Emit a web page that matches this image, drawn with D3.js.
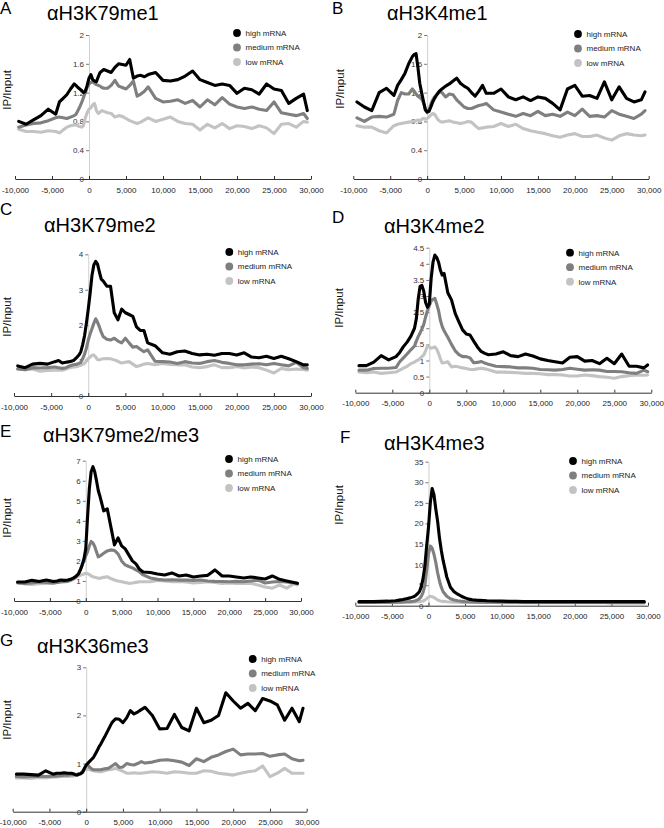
<!DOCTYPE html>
<html><head><meta charset="utf-8">
<script src="https://cdn.jsdelivr.net/npm/d3@7"></script>
<style>
html,body{margin:0;padding:0;background:#fff;}
svg{display:block;font-family:"Liberation Sans",Arial,sans-serif;}
</style></head>
<body><svg id="chart" width="664" height="828"></svg>
<script>
// genomic position (bp relative to TSS) shared by every series
const positions = [-9500,-8500,-7500,-6500,-5500,-4500,
  -4000,-3500,-3000,-2500,-2000,
  -1750,-1500,-1250,-1000,-750,-500,-250,0,250,500,750,1000,1250,1500,1750,
  2000,2500,3000,3500,4000,4500,5000,5500,6000,6500,7000,7500,8000,
  9000,10000,11000,12000,13000,14000,15000,16000,17000,18000,19000,20000,21000,22000,23000,24000,25000,26000,27000,28000,29000,
  29500];

const seriesNames = ["high mRNA","medium mRNA","low mRNA"];
const panelLetters = ["A","B","C","D","E","F","G"];
const panelTitles = ["\u03b1H3K79me1","\u03b1H3K4me1","\u03b1H3K79me2","\u03b1H3K4me2","\u03b1H3K79me2/me3","\u03b1H3K4me3","\u03b1H3K36me3"];
const xTicks = [-10000,-5000,0,5000,10000,15000,20000,25000,30000];
const yTicksA = [0,0.4,0.8,1.2,1.6,2];
const yTicksB = [0,0.4,0.8,1.2,1.6,2];
const yTicksC = [0,1,2,3,4];
const yTicksD = [0,0.5,1,1.5,2,2.5,3,3.5,4,4.5];
const yTicksE = [0,1,2,3,4,5,6,7];
const yTicksF = [0,5,10,15,20,25,30,35];
const yTicksG = [0,1,2,3];

// A  aH3K79me1
const aHigh = [0.8,0.76,0.82,0.88,0.97,0.9,
  1.07,1.12,1.17,1.25,1.32,
  1.3,1.27,1.25,1.23,1.2,1.22,1.3,1.4,1.45,1.38,1.36,1.35,1.42,1.48,1.5,
  1.52,1.5,1.48,1.55,1.6,1.59,1.58,1.66,1.4,1.43,1.44,1.42,1.45,
  1.48,1.37,1.36,1.38,1.43,1.5,1.38,1.34,1.3,1.32,1.3,1.19,1.26,1.24,1.18,1.32,1.25,1.23,1.05,1.12,1.18,
  0.95];
const aMed = [0.72,0.75,0.77,0.78,0.81,0.85,
  0.86,0.85,0.84,0.86,0.88,
  0.9,0.95,1.0,1.06,1.13,1.2,1.27,1.32,1.34,1.35,1.33,1.31,1.3,1.29,1.27,
  1.26,1.26,1.3,1.37,1.29,1.27,1.25,1.3,1.36,1.15,1.18,1.22,1.28,
  1.12,1.07,1.08,1.1,1.05,1.09,1.0,1.1,1.03,1.13,1.04,1.0,0.98,1.0,0.97,0.95,1.07,0.92,0.9,0.88,0.91,
  0.84];
const aLow = [0.69,0.66,0.66,0.65,0.67,0.66,
  0.64,0.68,0.72,0.74,0.75,
  0.75,0.74,0.73,0.72,0.74,0.85,0.92,0.97,0.99,1.03,1.05,0.95,0.91,0.93,0.95,
  0.94,0.92,0.91,0.86,0.88,0.87,0.84,0.81,0.79,0.77,0.79,0.82,0.85,
  0.8,0.83,0.86,0.8,0.77,0.76,0.68,0.76,0.71,0.77,0.7,0.74,0.73,0.7,0.74,0.71,0.63,0.76,0.77,0.72,0.8,
  0.79];

// B  aH3K4me1
const bHigh = [1.07,1.0,0.95,1.2,1.26,1.16,
  1.3,1.38,1.47,1.6,1.7,
  1.73,1.74,1.55,1.33,1.2,1.08,0.96,0.93,0.94,1.0,1.07,1.12,1.16,1.2,1.23,
  1.25,1.29,1.32,1.36,1.4,1.33,1.29,1.26,1.2,1.15,1.22,1.3,1.19,
  1.19,1.25,1.14,1.1,1.14,1.09,1.14,1.12,1.05,0.96,1.25,1.3,1.15,1.16,1.12,1.35,1.1,1.28,1.12,1.07,1.1,
  1.21];
const bMed = [0.85,0.8,0.86,0.87,0.86,0.9,
  1.09,1.2,1.18,1.18,1.25,
  1.22,1.18,1.15,1.13,1.11,1.06,0.98,0.92,0.96,1.04,1.1,1.14,1.17,1.19,1.21,
  1.2,1.14,1.18,1.17,1.1,1.05,1.0,0.98,0.98,1.0,1.02,1.03,1.05,
  0.96,0.93,0.9,0.87,0.91,0.88,0.94,0.88,0.9,0.87,0.93,0.88,0.97,0.87,0.88,0.86,0.95,0.9,0.87,0.84,0.9,
  0.95];
const bLow = [0.74,0.72,0.72,0.67,0.64,0.74,
  0.76,0.77,0.78,0.79,0.8,
  0.8,0.81,0.82,0.8,0.83,0.84,0.83,0.84,0.86,0.89,0.91,0.9,0.86,0.82,0.8,
  0.79,0.8,0.81,0.79,0.78,0.77,0.78,0.8,0.79,0.74,0.7,0.71,0.72,
  0.73,0.77,0.73,0.76,0.7,0.67,0.65,0.63,0.6,0.58,0.61,0.63,0.59,0.59,0.61,0.57,0.54,0.6,0.63,0.61,0.6,
  0.61];

// C  aH3K79me2
const cHigh = [0.85,0.8,0.9,0.92,0.9,0.97,
  1.0,0.93,0.95,0.97,1.0,
  1.05,1.1,1.16,1.25,1.45,1.7,2.05,2.45,2.9,3.4,3.7,3.8,3.72,3.5,3.3,
  3.25,3.1,3.1,2.35,2.15,2.45,2.35,2.3,2.25,1.95,1.85,1.85,1.5,
  1.42,1.22,1.18,1.25,1.27,1.2,1.16,1.18,1.15,1.2,1.2,1.16,1.22,1.1,1.08,1.12,1.06,1.12,1.05,0.97,0.88,
  0.88];
const cMed = [0.76,0.74,0.8,0.79,0.8,0.82,
  0.8,0.78,0.8,0.85,0.88,
  0.89,0.9,0.92,0.95,1.05,1.18,1.35,1.58,1.75,1.9,2.05,2.18,2.08,1.95,1.8,
  1.68,1.6,1.58,1.63,1.55,1.5,1.63,1.5,1.38,1.4,1.32,1.25,1.3,
  0.98,0.97,0.96,0.92,0.97,0.93,0.92,0.97,1.0,0.95,0.92,0.88,0.88,0.9,0.91,0.88,0.92,0.88,0.85,0.95,0.8,
  0.78];
const cLow = [0.77,0.74,0.76,0.7,0.72,0.73,
  0.73,0.73,0.76,0.8,0.82,
  0.82,0.83,0.85,0.87,0.89,0.92,1.0,1.06,1.1,1.15,1.16,1.1,1.03,1.02,1.04,
  1.05,1.06,1.05,1.02,0.98,0.93,0.95,0.97,0.9,0.83,0.86,0.9,0.92,
  0.88,0.92,0.89,0.88,0.88,0.82,0.8,0.83,0.88,0.8,0.8,0.83,0.79,0.82,0.8,0.73,0.65,0.78,0.74,0.76,0.75,
  0.73];

// D  aH3K4me2
const dHigh = [0.84,0.84,0.95,1.15,1.02,1.12,
  1.25,1.43,1.57,1.75,2.0,
  2.3,2.9,3.3,3.33,3.15,2.8,2.65,2.75,3.55,4.05,4.27,4.2,4.05,3.8,3.65,
  3.7,3.1,2.88,2.46,2.2,1.95,1.82,1.79,1.6,1.42,1.28,1.22,1.18,
  1.2,1.27,1.15,1.12,1.2,1.14,1.05,1.0,0.96,0.92,1.1,1.12,0.98,1.0,0.9,1.07,0.9,1.2,0.82,0.82,0.77,
  0.86];
const dMed = [0.7,0.7,0.75,0.76,0.76,0.78,
  0.96,1.08,1.2,1.33,1.45,
  1.6,1.74,1.85,1.98,2.12,2.35,2.55,2.7,2.85,2.9,2.93,2.75,2.55,2.25,2.05,
  1.92,1.72,1.5,1.3,1.18,1.12,1.12,1.08,0.93,0.94,0.97,0.92,0.88,
  0.82,0.81,0.8,0.77,0.77,0.76,0.72,0.71,0.7,0.72,0.76,0.73,0.7,0.71,0.7,0.66,0.66,0.65,0.62,0.6,0.7,
  0.65];
const dLow = [0.64,0.62,0.64,0.6,0.62,0.64,
  0.7,0.76,0.82,0.9,0.95,
  0.99,1.02,1.06,1.12,1.17,1.3,1.45,1.42,1.38,1.4,1.42,1.35,1.22,1.05,0.92,
  0.93,0.96,0.8,0.82,0.8,0.77,0.75,0.72,0.72,0.74,0.76,0.74,0.71,
  0.64,0.64,0.63,0.62,0.6,0.6,0.59,0.56,0.56,0.55,0.52,0.52,0.55,0.53,0.5,0.48,0.45,0.5,0.53,0.55,0.54,
  0.55];

// E  aH3K79me2/me3
const eHigh = [0.95,0.95,1.03,0.97,1.05,0.97,
  1.0,1.05,1.03,1.05,1.1,
  1.14,1.2,1.27,1.35,1.55,1.8,2.1,2.6,4.2,5.6,6.45,6.7,6.45,6.0,5.5,
  5.2,4.5,4.6,3.7,2.8,3.15,2.75,2.6,2.3,2.0,1.85,1.58,1.45,
  1.42,1.35,1.3,1.4,1.25,1.3,1.2,1.25,1.28,1.55,1.25,1.25,1.2,1.15,1.2,1.15,1.1,1.25,1.08,1.0,0.92,
  0.88];
const eMed = [0.9,0.88,0.9,0.95,0.92,0.9,
  0.92,0.95,0.96,0.98,1.05,
  1.1,1.15,1.25,1.4,1.58,1.8,2.0,2.25,2.45,2.75,2.97,2.9,2.72,2.45,2.2,
  2.25,2.38,2.5,2.55,2.52,2.35,2.0,1.8,1.72,1.65,1.55,1.45,1.3,
  1.15,1.08,1.05,1.06,1.04,1.05,1.03,1.05,1.0,0.98,0.97,0.96,0.98,0.96,1.0,1.04,0.9,0.95,0.97,0.95,0.9,
  0.88];
const eLow = [0.93,0.85,0.82,0.86,0.88,0.88,
  0.92,0.97,1.0,1.03,1.05,
  1.08,1.15,1.2,1.25,1.28,1.32,1.35,1.38,1.37,1.32,1.25,1.21,1.18,1.16,1.14,
  1.13,1.18,1.21,1.12,1.05,1.0,0.96,0.92,0.88,0.9,0.93,0.96,0.96,
  0.96,1.03,1.0,0.96,0.97,0.95,0.9,0.92,0.96,0.93,0.88,0.9,0.88,0.89,0.88,0.8,0.7,0.64,0.8,0.64,0.86,
  0.8];

// F  aH3K4me3
const fHigh = [1.0,1.0,1.0,1.05,1.1,1.2,
  1.35,1.5,1.7,1.9,2.2,
  2.5,2.9,3.4,4.5,6.5,9.5,14.5,19,25,28.5,27,23.5,20.5,16.5,13.5,
  11,7,4.5,3.4,2.8,2.3,1.9,1.6,1.45,1.35,1.3,1.25,1.2,
  1.15,1.1,1.05,1.05,1.0,1.0,1.0,1.0,1.0,1.0,1.0,1.0,1.0,1.0,1.0,1.0,1.0,1.0,1.0,1.0,1.0,
  1.0];
const fMed = [0.8,0.8,0.8,0.8,0.8,0.85,
  0.85,0.9,0.95,1.0,1.1,
  1.2,1.4,1.7,2.2,3.2,4.8,8.5,12.5,14.5,14,12.5,10.5,8,6,4.5,
  3.4,2.3,1.7,1.4,1.2,1.1,1.0,0.95,0.9,0.9,0.85,0.85,0.85,
  0.85,0.85,0.8,0.8,0.8,0.8,0.8,0.8,0.8,0.8,0.8,0.8,0.8,0.8,0.8,0.8,0.75,0.75,0.75,0.75,0.75,
  0.75];
const fLow = [0.8,0.8,0.8,0.8,0.8,0.8,
  0.8,0.82,0.85,0.88,0.9,
  0.92,0.95,1.0,1.05,1.15,1.35,1.7,2.1,2.3,2.2,2.0,1.7,1.4,1.2,1.1,
  1.05,0.95,0.9,0.85,0.85,0.82,0.8,0.8,0.8,0.78,0.78,0.78,0.78,
  0.78,0.75,0.75,0.75,0.72,0.72,0.72,0.72,0.7,0.7,0.7,0.7,0.7,0.7,0.7,0.7,0.7,0.7,0.7,0.7,0.7,
  0.7];

// G  aH3K36me3
const gHigh = [0.78,0.78,0.77,0.76,0.85,0.78,
  0.8,0.8,0.81,0.8,0.8,
  0.79,0.77,0.76,0.78,0.79,0.82,0.9,0.97,1.01,1.05,1.09,1.13,1.2,1.27,1.35,
  1.41,1.55,1.7,1.85,1.93,1.92,1.85,1.95,2.1,2.03,2.07,2.12,2.17,
  2.0,1.72,1.73,2.02,1.75,1.68,2.15,1.85,1.9,2.0,2.47,2.3,2.15,2.25,2.1,2.35,2.3,2.22,1.9,2.15,1.87,
  2.15];
const gMed = [0.73,0.72,0.73,0.74,0.73,0.74,
  0.74,0.75,0.76,0.76,0.77,
  0.77,0.77,0.78,0.79,0.8,0.82,0.88,0.95,0.96,0.92,0.89,0.87,0.87,0.87,0.87,
  0.87,0.89,0.9,0.95,1.0,0.92,0.93,1.0,0.98,0.97,1.0,1.04,1.01,
  1.03,1.07,1.08,1.06,1.03,0.96,1.1,1.04,1.13,1.18,1.25,1.3,1.18,1.2,1.2,1.21,1.15,1.18,1.2,1.1,1.06,
  1.07];
const gLow = [0.7,0.7,0.69,0.71,0.7,0.72,
  0.72,0.73,0.73,0.73,0.74,
  0.74,0.75,0.76,0.77,0.8,0.84,0.87,0.88,0.88,0.87,0.86,0.85,0.84,0.84,0.83,
  0.83,0.85,0.87,0.88,0.9,0.87,0.84,0.8,0.8,0.81,0.8,0.8,0.81,
  0.83,0.82,0.8,0.83,0.82,0.8,0.8,0.85,0.84,0.8,0.78,0.76,0.8,0.83,0.85,0.95,0.73,0.8,0.9,0.8,0.8,
  0.8];

// ---------- layout (pixels) ----------
const seriesColors = ["#000000","#7f7f7f","#c3c3c3"];
const panels = [
  {letter:panelLetters[0], title:panelTitles[0], data:[aHigh,aMed,aLow], yMax:2,   yTicks:yTicksA,
   x0:15, x1:311, yB:179, yT:35, letterPos:[0,14], titlePos:[47,20], ylab:[7,90], leg:[237,33]},
  {letter:panelLetters[1], title:panelTitles[1], data:[bHigh,bMed,bLow], yMax:2,   yTicks:yTicksB,
   x0:353.3, x1:648.7, yB:179, yT:35, letterPos:[332,14], titlePos:[387,20], ylab:[340,89], leg:[578,34]},
  {letter:panelLetters[2], title:panelTitles[2], data:[cHigh,cMed,cLow], yMax:4,   yTicks:yTicksC,
   x0:14, x1:311, yB:396, yT:254.3, letterPos:[0,215], titlePos:[44,232], ylab:[7,317], leg:[229.3,252]},
  {letter:panelLetters[3], title:panelTitles[3], data:[dHigh,dMed,dLow], yMax:4.5, yTicks:yTicksD,
   x0:355.3, x1:651.3, yB:392.7, yT:247.7, letterPos:[332,223], titlePos:[384,233], ylab:[339,308], leg:[570,252.7]},
  {letter:panelLetters[4], title:panelTitles[4], data:[eHigh,eMed,eLow], yMax:7,   yTicks:yTicksE,
   x0:14, x1:301, yB:601, yT:460.7, letterPos:[0,437], titlePos:[43,442], ylab:[7,518], leg:[229,459]},
  {letter:panelLetters[5], title:panelTitles[5], data:[fHigh,fMed,fLow], yMax:35,  yTicks:yTicksF,
   x0:355.3, x1:648, yB:605.7, yT:461.7, letterPos:[340,443], titlePos:[384,450], ylab:[339,505], leg:[573,461]},
  {letter:panelLetters[6], title:panelTitles[6], data:[gHigh,gMed,gLow], yMax:3,   yTicks:yTicksG,
   x0:12.7, x1:306.7, yB:811.7, yT:667.3, letterPos:[0,646], titlePos:[37,653], ylab:[7,720], leg:[252.7,659]}
];

const svg = d3.select("#chart");
const fmtX = d => d3.format(",")(d).replace("\u2212","-");

panels.forEach(p => {
  const g = svg.append("g");
  const x = d3.scaleLinear().domain([-10000,30000]).range([p.x0,p.x1]);
  const y = d3.scaleLinear().domain([0,p.yMax]).range([p.yB,p.yT]);

  // y axis (at x = 0)
  const yAx = g.append("g").attr("transform",`translate(${x(0)},0)`)
    .call(d3.axisLeft(y).tickValues(p.yTicks).tickFormat(d=>String(d)).tickSize(3).tickSizeOuter(0).tickPadding(2));
  yAx.select(".domain").attr("stroke","#cfcfcf");
  yAx.selectAll(".tick line").attr("stroke","#777");
  yAx.selectAll("text").attr("font-size","8px").attr("fill","#333").attr("font-family","Liberation Sans, Arial, sans-serif");

  // x axis
  const xAx = g.append("g").attr("transform",`translate(0,${p.yB})`)
    .call(d3.axisBottom(x).tickValues(xTicks).tickFormat(fmtX).tickSizeInner(-3).tickSizeOuter(0).tickPadding(8));
  xAx.select(".domain").attr("stroke","#333");
  xAx.selectAll(".tick line").attr("stroke","#333");
  xAx.selectAll("text").attr("font-size","8px").attr("fill","#222").attr("font-family","Liberation Sans, Arial, sans-serif");

  // lines: low first, high on top
  const line = d3.line().x((d,i)=>x(positions[i])).y(d=>y(d));
  [2,1,0].forEach(k => {
    g.append("path").datum(p.data[k])
      .attr("d", line).attr("fill","none")
      .attr("stroke", seriesColors[k]).attr("stroke-width",3.1)
      .attr("stroke-linejoin","round").attr("stroke-linecap","round");
  });

  // legend
  seriesNames.forEach((name,k) => {
    const ly = p.leg[1] + k*14.5;
    g.append("circle").attr("cx",p.leg[0]).attr("cy",ly).attr("r",3.9).attr("fill",seriesColors[k]);
    g.append("text").attr("x",p.leg[0]+8.5).attr("y",ly+2.8).attr("font-size","8px").attr("fill","#222").text(name);
  });

  // y label
  g.append("text").attr("transform",`translate(${p.ylab[0]+4},${p.ylab[1]}) rotate(-90)`)
    .attr("text-anchor","middle").attr("font-size","11.5px").attr("fill","#111").text("IP/Input");

  // letter + title
  g.append("text").attr("x",p.letterPos[0]).attr("y",p.letterPos[1]).attr("font-size","17px").attr("fill","#000").text(p.letter);
  g.append("text").attr("x",p.titlePos[0]).attr("y",p.titlePos[1]).attr("font-size","20px").attr("fill","#000").text(p.title);
});
</script>
</body></html>
